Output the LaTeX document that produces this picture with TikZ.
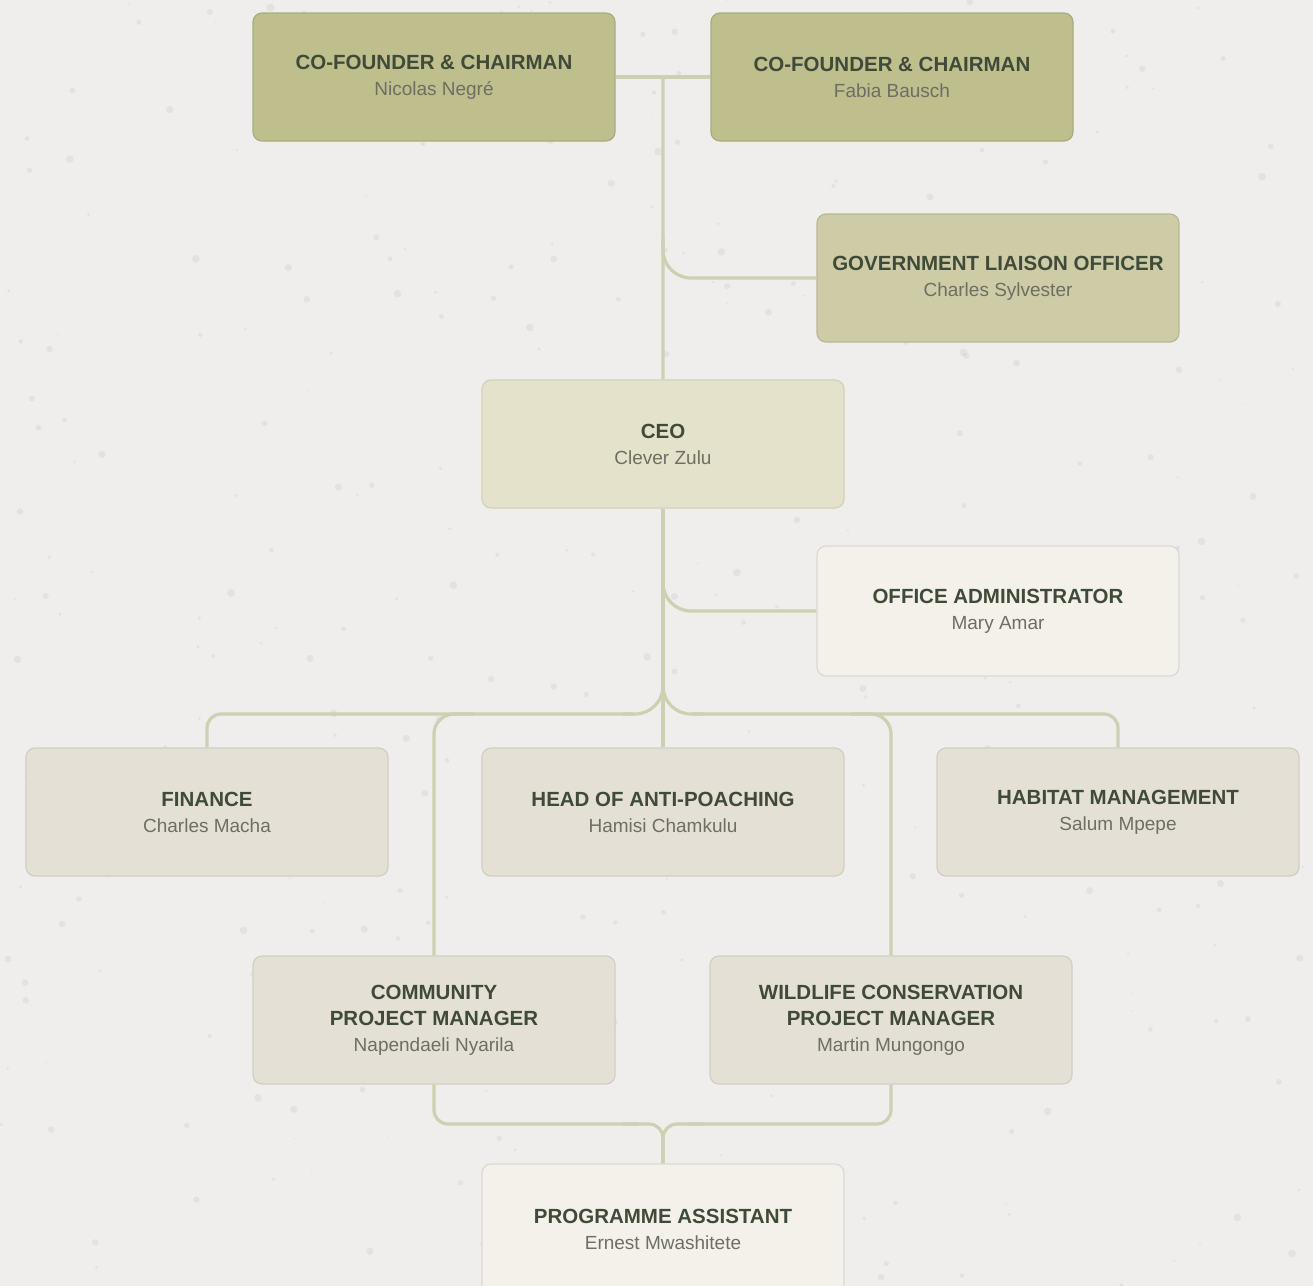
\documentclass[tikz,border=0pt]{standalone}
\usepackage{fontspec}
\setmainfont{Liberation Sans}
\usetikzlibrary{calc}
\definecolor{bgcol}{HTML}{EFEEEC}
\definecolor{cfcol}{HTML}{BFBE8D}
\definecolor{glocol}{HTML}{CDCCA7}
\definecolor{ceocol}{HTML}{E5E2CC}
\definecolor{lightcol}{HTML}{F3F1EA}
\definecolor{beigecol}{HTML}{E4E0D5}
\definecolor{linecol}{HTML}{CFCFB2}
\definecolor{titlecol}{HTML}{404A38}
\definecolor{namecol}{HTML}{6E6E62}
\newcommand\roletitle{\fontsize{10.25}{13}\selectfont\bfseries\color{titlecol}}
\tikzset{
  box/.style={rectangle, rounded corners=4.5pt, minimum width=181pt, minimum height=64pt,
    align=center, inner sep=0pt, line width=0.6pt, text=namecol,
    font=\fontsize{9.5}{13}\selectfont},
  cfbox/.style={box, fill=cfcol, draw=cfcol!90!black},
  globox/.style={box, fill=glocol, draw=glocol!90!black},
  ceobox/.style={box, fill=ceocol, draw=ceocol!92!black},
  lightbox/.style={box, fill=lightcol, draw=lightcol!90!black},
  beigebox/.style={box, fill=beigecol, draw=beigecol!92!black},
  conn/.style={draw=linecol, line width=1.6pt},
  junction/.style={conn, rounded corners=14pt},
  corner/.style={conn, rounded corners=7pt},
}
\begin{document}
\begin{tikzpicture}[x=0.5pt, y=-0.5pt]
\useasboundingbox (0,0) rectangle (1313,1286);
\clip (0,0) rectangle (1313,1286);
\fill[bgcol] (0,0) rectangle (1313,1286);
\pgfmathsetseed{11}
\foreach \i in {1,...,350}{
  \pgfmathsetmacro\dx{rnd*1313}
  \pgfmathsetmacro\dy{rnd*1286}
  \pgfmathsetmacro\dr{0.4+rnd*1.6}
  \fill[black!45, opacity=0.12] (\dx,\dy) circle (\dr pt);
}
% nodes
\node[cfbox] (cf1) at (434,77) {{\roletitle CO-FOUNDER \& CHAIRMAN}\\Nicolas Negré};
\node[cfbox] (cf2) at (892,77) {{\roletitle CO-FOUNDER \& CHAIRMAN}\\Fabia Bausch};
\node[globox] (glo) at (998,278) {{\roletitle GOVERNMENT LIAISON OFFICER}\\Charles Sylvester};
\node[ceobox] (ceo) at (663,444) {{\roletitle CEO}\\Clever Zulu};
\node[lightbox, minimum height=65pt] (oa) at (998,611) {{\roletitle OFFICE ADMINISTRATOR}\\Mary Amar};
\node[beigebox] (fin) at (207,812) {{\roletitle FINANCE}\\Charles Macha};
\node[beigebox] (hap) at (663,812) {{\roletitle HEAD OF ANTI-POACHING}\\Hamisi Chamkulu};
\node[beigebox] (hab) at (1118,812) {{\roletitle HABITAT MANAGEMENT}\\Salum Mpepe};
\node[beigebox] (cpm) at (434,1020) {{\roletitle COMMUNITY}\\{\roletitle PROJECT MANAGER}\\Napendaeli Nyarila};
\node[beigebox] (wpm) at (891,1020) {{\roletitle WILDLIFE CONSERVATION}\\{\roletitle PROJECT MANAGER}\\Martin Mungongo};
\node[lightbox, minimum height=65pt] (pa) at (663,1229) {{\roletitle PROGRAMME ASSISTANT}\\Ernest Mwashitete};
% junctions
\coordinate (jtop) at ($(cf1.east)!0.5!(cf2.west)$);
\coordinate (j1) at (663,714);
\coordinate (j2) at (663,1124);
% connectors
\draw[conn] (cf1.east) -- (cf2.west);
\draw[conn] (jtop) -- (ceo.north);
\draw[junction] ($(ceo.north |- glo.west)+(0,-40)$) -- (ceo.north |- glo.west) -- (glo.west);
\draw[conn] (ceo.south) -- (hap.north);
\draw[junction] ($(ceo.south |- oa.west)+(0,-40)$) -- (ceo.south |- oa.west) -- (oa.west);
\draw[junction] ($(j1)+(0,-40)$) -- (j1) -- ($(j1)+(-40,0)$);
\draw[junction] ($(j1)+(0,-40)$) -- (j1) -- ($(j1)+(40,0)$);
\draw[corner] ($(j1)+(-30,0)$) -- (fin.north |- j1) -- (fin.north);
\draw[corner] ($(j1)+(30,0)$) -- (hab.north |- j1) -- (hab.north);
\draw[conn, rounded corners=10pt] ($(cpm.north |- j1)+(40,0)$) -- (cpm.north |- j1) -- (cpm.north);
\draw[conn, rounded corners=10pt] ($(wpm.north |- j1)+(-40,0)$) -- (wpm.north |- j1) -- (wpm.north);
\draw[corner] (cpm.south) -- (cpm.south |- j2) -- ($(j2)+(-25,0)$);
\draw[corner] (wpm.south) -- (wpm.south |- j2) -- ($(j2)+(25,0)$);
\draw[corner] ($(j2)+(-40,0)$) -- (j2) -- (pa.north);
\draw[corner] ($(j2)+(40,0)$) -- (j2) -- (pa.north);
\end{tikzpicture}
\end{document}
